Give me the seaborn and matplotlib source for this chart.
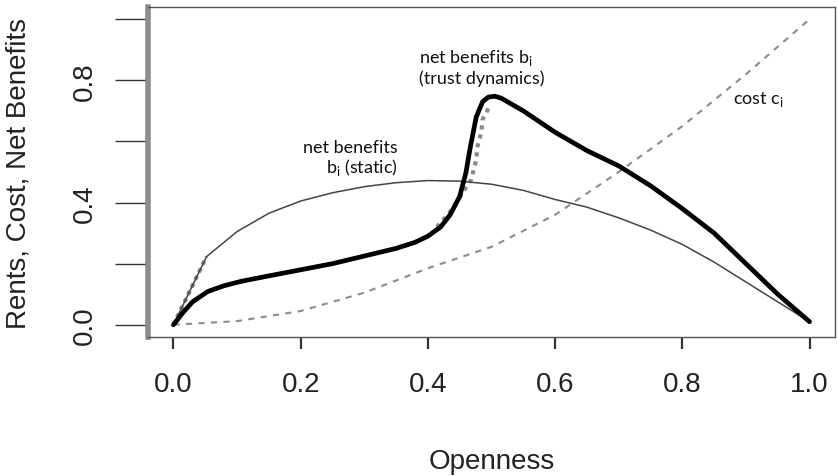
import numpy as np
import pandas as pd
import matplotlib
matplotlib.use("Agg")
import matplotlib.pyplot as plt
import seaborn as sns

# ---- data ----
static_x = [0.0, 0.052, 0.1, 0.15, 0.2, 0.25, 0.3, 0.35, 0.4, 0.45, 0.5, 0.55,
            0.6, 0.65, 0.7, 0.75, 0.8, 0.85, 0.9, 0.95, 1.0]
static_y = [0.0, 0.223, 0.305, 0.365, 0.405, 0.432, 0.452, 0.465, 0.472, 0.47,
            0.46, 0.44, 0.41, 0.385, 0.35, 0.31, 0.263, 0.205, 0.14, 0.075, 0.01]

trust_x = [0.0, 0.015, 0.03, 0.054, 0.08, 0.106, 0.15, 0.2, 0.25, 0.3, 0.35, 0.38,
           0.4, 0.42, 0.435, 0.45, 0.46, 0.466, 0.476, 0.486, 0.495, 0.505, 0.515,
           0.55, 0.6, 0.65, 0.7, 0.75, 0.8, 0.85, 0.9, 0.95, 1.0]
trust_y = [0.0, 0.04, 0.075, 0.109, 0.128, 0.142, 0.16, 0.18, 0.2, 0.225, 0.25, 0.27,
           0.29, 0.32, 0.36, 0.42, 0.5, 0.574, 0.68, 0.73, 0.745, 0.748, 0.742,
           0.7, 0.63, 0.57, 0.52, 0.455, 0.38, 0.3, 0.2, 0.1, 0.01]

cost_x = [0.0, 0.1, 0.2, 0.3, 0.4, 0.5, 0.6, 0.7, 0.8, 0.9, 1.0]
cost_y = [0.0, 0.012, 0.045, 0.105, 0.185, 0.255, 0.36, 0.5, 0.65, 0.82, 1.0]

rents_a_x = [0.0, 0.052]
rents_a_y = [0.0, 0.223]
rents_b_x = [0.414, 0.434, 0.468, 0.476, 0.478, 0.484, 0.486, 0.497]
rents_b_y = [0.32, 0.367, 0.475, 0.54, 0.584, 0.63, 0.672, 0.715]

x_ticks = [0.0, 0.2, 0.4, 0.6, 0.8, 1.0]
x_tick_labels = ["0.0", "0.2", "0.4", "0.6", "0.8", "1.0"]
y_ticks = [0.0, 0.2, 0.4, 0.6, 0.8, 1.0]
y_tick_labels = ["0.0", "", "0.4", "", "0.8", ""]

x_label = "Openness"
y_label = "Rents, Cost, Net Benefits"

# ---- style ----
sns.set_theme(style="white")
plt.rcParams["font.family"] = ["Liberation Sans", "DejaVu Sans"]
plt.rcParams["mathtext.fontset"] = "custom"
plt.rcParams["mathtext.rm"] = "Lato"

fig = plt.figure(figsize=(8.38, 4.77), dpi=100)
ax = fig.add_axes([148 / 838, 1 - 338 / 477, (835 - 148) / 838, (338 - 8) / 477])

sns.lineplot(x=rents_a_x, y=rents_a_y, ax=ax, color="#8a8a8a", lw=3.0,
             linestyle=(0, (1, 1)), sort=False)
sns.lineplot(x=rents_b_x, y=rents_b_y, ax=ax, color="#8a8a8a", lw=3.0,
             linestyle=(0, (1, 1.2)), sort=False)
sns.lineplot(x=cost_x, y=cost_y, ax=ax, color="#8c8c8c", lw=1.5,
             linestyle=(0, (3, 3)), sort=False)
sns.lineplot(x=static_x, y=static_y, ax=ax, color="#444444", lw=1.1, sort=False)
sns.lineplot(x=trust_x, y=trust_y, ax=ax, color="black", lw=3.4, sort=False,
             solid_capstyle="round", solid_joinstyle="round")

ax.set_xlim(-0.04, 1.04)
ax.set_ylim(-0.04, 1.04)

ax.set_xticks(x_ticks)
ax.set_xticklabels(x_tick_labels)
ax.set_yticks(y_ticks)
ax.set_yticklabels(y_tick_labels, rotation=90, va="center")

ax.tick_params(axis="x", direction="out", length=8.6, width=1.6, colors="#333333",
               labelsize=20, pad=16, labelcolor="#222222")
ax.tick_params(axis="y", direction="out", length=24, width=1.0, colors="#333333",
               labelsize=20, pad=12, labelcolor="#222222")
ax.tick_params(bottom=True, left=True)

for s in ["top", "right", "bottom"]:
    ax.spines[s].set_color("#555555")
    ax.spines[s].set_linewidth(1.0)
ax.spines["left"].set_color("#8c8c8c")
ax.spines["left"].set_linewidth(4.0)

ax.set_xlabel(x_label, fontsize=20, color="#222222")
ax.set_ylabel(y_label, fontsize=20, color="#222222")
ax.xaxis.set_label_coords(0.5, -0.336)
ax.yaxis.set_label_coords(-0.169, 0.5)

ann_kw = dict(fontsize=13, family=["Lato", "DejaVu Sans"], color="#111111")
ax.text(0.386, 0.859, r"net benefits b$_\mathregular{i}$", ha="left", va="baseline", **ann_kw)
ax.text(0.386, 0.79, "(trust dynamics)", ha="left", va="baseline", **ann_kw)
ax.text(0.352, 0.567, "net benefits", ha="right", va="baseline", **ann_kw)
ax.text(0.352, 0.50, r"b$_\mathregular{i}$ (static)", ha="right", va="baseline", **ann_kw)
ax.text(0.88, 0.725, r"cost c$_\mathregular{i}$", ha="left", va="baseline", **ann_kw)

fig.savefig("out.png", dpi=100)
